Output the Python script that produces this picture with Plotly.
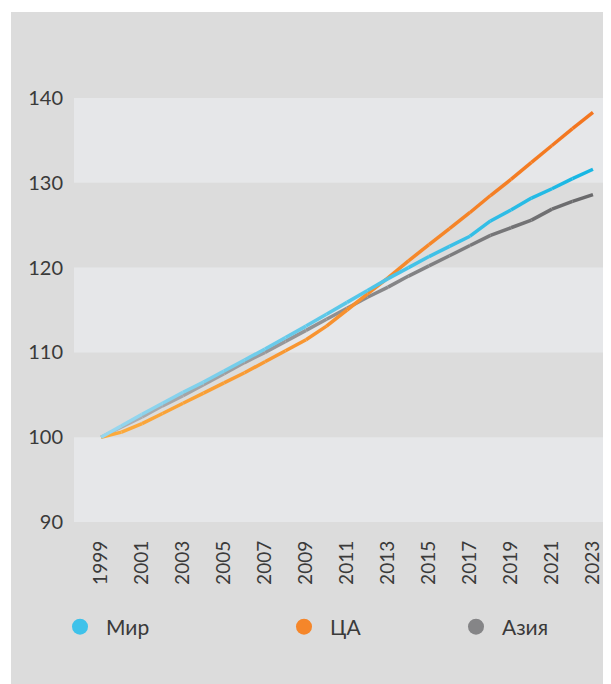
import plotly.graph_objects as go

years = list(range(1999, 2024))
tick_years = list(range(1999, 2024, 2))
tick_labels = [str(y) for y in tick_years]
y_ticks = [90, 100, 110, 120, 130, 140]

mir = [100.0, 101.35, 102.7, 104.0, 105.3, 106.5, 107.8, 109.1, 110.4, 111.75,
       113.1, 114.5, 115.9, 117.3, 118.7, 120.0, 121.3, 122.5, 123.7, 125.5,
       126.8, 128.2, 129.3, 130.5, 131.6]
ca = [100.0, 100.6, 101.6, 102.8, 104.0, 105.2, 106.4, 107.6, 108.9, 110.2,
      111.5, 113.1, 115.0, 116.9, 118.8, 120.8, 122.7, 124.6, 126.5, 128.5,
      130.4, 132.4, 134.4, 136.4, 138.3]
asia = [100.0, 101.2, 102.4, 103.7, 104.9, 106.2, 107.5, 108.8, 110.0, 111.3,
        112.6, 113.9, 115.2, 116.5, 117.7, 119.0, 120.2, 121.4, 122.6, 123.8,
        124.7, 125.6, 126.9, 127.8, 128.6]

series_names = ["Мир", "ЦА", "Азия"]

# styles
BG = "#dcdcdc"
BAND = "#e6e7e9"
TEXT = "#3a3a3a"
FONT = "Lato"
grad = {
    "Мир": ((150, 214, 238), (24, 183, 228)),
    "ЦА": ((251, 170, 60), (243, 118, 32)),
    "Азия": ((176, 176, 178), (106, 106, 108)),
}
legend_color = {"Мир": "#3fc2ea", "ЦА": "#f5862a", "Азия": "#858587"}


def mix(c0, c1, t):
    return "rgb(%d,%d,%d)" % tuple(round(a + (b - a) * t) for a, b in zip(c0, c1))


fig = go.Figure()

data = {"Мир": mir, "ЦА": ca, "Азия": asia}
for name in ["Азия", "ЦА", "Мир"]:
    vals = data[name]
    c0, c1 = grad[name]
    n = len(years)
    for i in range(n - 1):
        t = i / (n - 2)
        fig.add_trace(go.Scatter(
            x=years[i:i + 2], y=vals[i:i + 2], mode="lines",
            line=dict(color=mix(c0, c1, t), width=3.5),
            showlegend=False, hoverinfo="skip", legendgroup=name,
        ))

legend_ids = {"Мир": "legend", "ЦА": "legend2", "Азия": "legend3"}
for name in series_names:
    fig.add_trace(go.Scatter(
        x=[None], y=[None], mode="markers", name=name,
        marker=dict(color=legend_color[name], size=16, symbol="circle"),
        legendgroup=name, showlegend=True, legend=legend_ids[name],
    ))

# page has an 8px body margin: figure pixel = page pixel - 8
OFF = 8
W, H = 611 - OFF, 684 - OFF
L, T = 74 - OFF, 98 - OFF
PR, PB = 611 - OFF, 522 - OFF      # plot right / bottom in figure px
R, B = W - PR, H - PB
pw = PR - L
ph = PB - T

shapes = []
for lo, hi in [(90, 100), (110, 120), (130, 140)]:
    shapes.append(dict(type="rect", xref="paper", yref="y", x0=0, x1=1, y0=lo, y1=hi,
                       fillcolor=BAND, line=dict(width=0), layer="below"))
# white outer margins (left and top strips)
shapes.append(dict(type="rect", xref="paper", yref="paper",
                   x0=(-2 - L) / pw, x1=(11 - OFF - L) / pw, y0=-B / ph - 0.01, y1=(H - B + 2) / ph,
                   fillcolor="white", line=dict(width=0), layer="above"))
shapes.append(dict(type="rect", xref="paper", yref="paper",
                   x0=(-2 - L) / pw, x1=1.01, y0=(PB - (12 - OFF)) / ph, y1=(PB + 2) / ph,
                   fillcolor="white", line=dict(width=0), layer="above"))

leg_y = (PB - (627 - OFF)) / ph


def leg(marker_center_page):
    left = marker_center_page - OFF - 26
    return dict(x=(left - L) / pw, y=leg_y, xanchor="left", yanchor="middle",
                orientation="h", bgcolor="rgba(0,0,0,0)", borderwidth=0, itemwidth=42,
                font=dict(family=FONT, size=21, color=TEXT))


fig.update_layout(
    width=W, height=H, autosize=False,
    template="none",
    margin=dict(l=L, r=R, t=T, b=B, pad=0),
    paper_bgcolor=BG, plot_bgcolor="rgba(0,0,0,0)",
    font=dict(family=FONT, size=19, color=TEXT),
    shapes=shapes,
    showlegend=True,
    legend=leg(80), legend2=leg(304), legend3=leg(476),
    xaxis=dict(range=[1997.68, 2023.88], tickvals=tick_years, ticktext=tick_labels,
               tickangle=-90, showgrid=False, zeroline=False, showline=False,
               ticks="", ticklabelstandoff=14, automargin=False,
               tickfont=dict(family=FONT, size=19, color=TEXT)),
    yaxis=dict(range=[90, 140], tickvals=y_ticks, showgrid=False, zeroline=False,
               showline=False, ticks="", ticklabelstandoff=10, automargin=False,
               tickfont=dict(family=FONT, size=20, color=TEXT)),
)

fig.write_html("out.html")
